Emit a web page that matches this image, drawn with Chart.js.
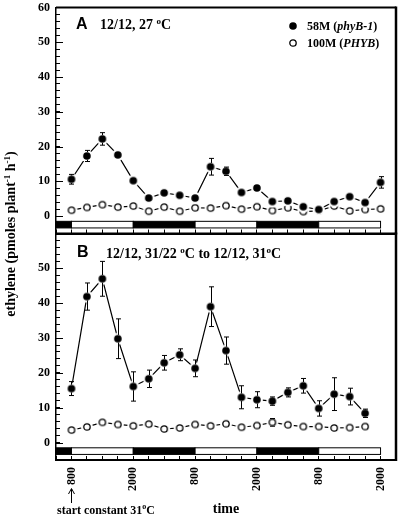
<!DOCTYPE html>
<html>
<head>
<meta charset="utf-8">
<script src="https://cdn.jsdelivr.net/npm/chart.js@4.4.1/dist/chart.umd.min.js"></script>
<style>
    html, body { margin: 0; padding: 0; background: #fff; }
    #wrap { position: relative; width: 403px; height: 518px; }
    #wrap canvas { position: absolute; left: 0; top: 0; }
</style>
</head>
<body>
<div id="wrap">
    <canvas id="chart-a" width="403" height="518"></canvas>
    <canvas id="chart-b" width="403" height="518"></canvas>
</div>
<script>
// hours after the first 800 sample, one sample every 3 h
const hoursA = [0, 3, 6, 9, 12, 15, 18, 21, 24, 27, 30, 33, 36, 39, 42, 45, 48, 51, 54, 57, 60];
const mutantA = [10.6, 17.3, 22.2, 17.6, 10.2, 5.2, 6.7, 6.0, 5.2, 14.2, 12.9, 6.8, 8.1, 4.2, 4.4, 2.7, 1.9, 4.2, 5.6, 3.9, 9.7];
const mutantErrA = [1.4, 1.6, 1.8, 0, 0, 0, 0, 0, 0, 2.4, 1.2, 0, 0, 0, 0, 0, 0, 0, 0, 0, 1.65];
const wildA = [1.7, 2.5, 3.3, 2.6, 2.9, 1.4, 2.6, 1.4, 2.4, 2.3, 3.0, 2.0, 2.7, 1.6, 2.4, 1.3, 1.5, 2.9, 1.5, 1.9, 2.1];

const hoursB = [0, 3, 6, 9, 12, 15, 18, 21, 24, 27, 30, 33, 36, 39, 42, 45, 48, 51, 54, 57];
const mutantB = [15.5, 41.9, 47.0, 29.8, 16.1, 18.3, 22.9, 25.2, 21.3, 39.0, 26.4, 13.0, 12.3, 11.9, 14.4, 16.3, 9.8, 13.9, 13.2, 8.4];
const mutantErrB = [2.0, 3.9, 5.0, 5.7, 4.2, 2.5, 2.1, 1.7, 2.4, 5.7, 3.9, 3.3, 2.3, 1.2, 1.3, 2.1, 2.2, 4.7, 2.4, 1.2];
const wildB = [3.6, 4.5, 5.8, 5.2, 4.8, 5.3, 3.9, 4.2, 5.2, 4.8, 5.4, 4.4, 4.9, 5.8, 5.1, 4.6, 4.6, 4.2, 4.3, 4.6];
const wildErrB = [0, 0, 0, 0, 0, 0, 0, 0, 0, 0, 0, 0, 0, 1.1, 0, 0, 0, 0, 0, 1.0];

const timeTickHours = [0, 12, 24, 36, 48, 60];
const timeTickLabels = ['800', '2000', '800', '2000', '800', '2000'];
const yLabelsA = [0, 10, 20, 30, 40, 50, 60];
const yLabelsB = [0, 10, 20, 30, 40, 50];

const periodStart = [-3, 0, 12, 24, 36, 48];
const periodEnd = [0, 12, 24, 36, 48, 60];
const periodDark = [true, false, true, false, true, false];

const SERIF = '"Liberation Serif", "Times New Roman", serif';
const SANS = '"Liberation Sans", Arial, sans-serif';

function markerImage(filled) {
    const c = document.createElement('canvas');
    c.width = 14;
    c.height = 14;
    const g = c.getContext('2d');
    g.fillStyle = '#fff';
    g.beginPath();
    g.arc(7, 7, 6, 0, Math.PI * 2);
    g.fill();
    g.beginPath();
    if (filled) {
        g.arc(7, 7, 3.8, 0, Math.PI * 2);
        g.fillStyle = '#000';
        g.fill();
    } else {
        g.arc(7, 7, 3.2, 0, Math.PI * 2);
        g.lineWidth = 1.3;
        g.strokeStyle = '#000';
        g.stroke();
    }
    return c;
}
const filledDot = markerImage(true);
const openDot = markerImage(false);

function drawRuns(ctx, x, y, runs) {
    runs.forEach(r => {
        ctx.font = r.font;
        ctx.fillText(r.text, x, y - (r.raise || 0));
        x += ctx.measureText(r.text).width;
    });
    return x;
}

function runsWidth(ctx, runs) {
    return runs.reduce((w, r) => {
        ctx.font = r.font;
        return w + ctx.measureText(r.text).width;
    }, 0);
}

const errorBars = {
    id: 'errorBars',
    afterDatasetsDraw(chart) {
        const {ctx, scales: {x, y}} = chart;
        ctx.save();
        ctx.strokeStyle = '#000';
        ctx.lineWidth = 1;
        chart.data.datasets.forEach(ds => {
            if (!ds.errors) return;
            ds.data.forEach((p, i) => {
                const e = ds.errors[i];
                if (!e) return;
                const px = Math.round(x.getPixelForValue(p.x)) + 0.5;
                const py = y.getPixelForValue(p.y);
                const top = y.getPixelForValue(p.y + e);
                const bottom = y.getPixelForValue(p.y - e);
                const r = ds.markerRadius;
                ctx.beginPath();
                if (py - top > r) {
                    ctx.moveTo(px, py - r);
                    ctx.lineTo(px, top);
                    ctx.moveTo(px - 2.5, top);
                    ctx.lineTo(px + 2.5, top);
                }
                if (bottom - py > r) {
                    ctx.moveTo(px, py + r);
                    ctx.lineTo(px, bottom);
                    ctx.moveTo(px - 2.5, bottom);
                    ctx.lineTo(px + 2.5, bottom);
                }
                ctx.stroke();
            });
        });
        ctx.restore();
    }
};

// light/dark strip and the box round each panel
const panelFrame = {
    id: 'panelFrame',
    beforeDatasetsDraw(chart) {
        const {ctx, scales: {x, y}} = chart;
        const top = y.getPixelForValue(-1.5);
        const bottom = y.getPixelForValue(-3.4);
        ctx.save();
        ctx.lineWidth = 1;
        ctx.strokeStyle = '#000';
        periodStart.forEach((s, i) => {
            const x1 = x.getPixelForValue(s);
            const x2 = x.getPixelForValue(periodEnd[i]);
            ctx.fillStyle = periodDark[i] ? '#000' : '#fff';
            ctx.fillRect(x1, top, x2 - x1, bottom - top);
            ctx.strokeRect(x1, top, x2 - x1, bottom - top);
        });
        ctx.restore();
    },
    afterDraw(chart) {
        const {ctx, chartArea: a, scales: {y}} = chart;
        ctx.save();
        ctx.strokeStyle = '#000';
        ctx.lineWidth = 2;
        ctx.beginPath();
        ctx.moveTo(a.left, a.top);
        ctx.lineTo(a.right, a.top);
        ctx.stroke();
        ctx.lineWidth = 2.5;
        ctx.beginPath();
        ctx.moveTo(a.right, a.top - 1);
        ctx.lineTo(a.right, a.bottom + 1);
        ctx.stroke();
        ctx.lineWidth = 1;
        ctx.beginPath();
        [0, 10, 20, 30, 40, 50].forEach(v => {
            const py = Math.round(y.getPixelForValue(v)) + 0.5;
            ctx.moveTo(a.left, py);
            ctx.lineTo(a.left + 7, py);
        });
        ctx.stroke();
        ctx.restore();
    }
};

const textA = {
    id: 'textA',
    afterDraw(chart) {
        const ctx = chart.ctx;
        ctx.save();
        ctx.fillStyle = '#000';
        ctx.textBaseline = 'alphabetic';
        ctx.font = 'bold 16px ' + SANS;
        ctx.fillText('A', 76, 29);
        drawRuns(ctx, 100, 29, [
            {text: '12/12, 27 ', font: 'bold 14px ' + SERIF},
            {text: 'o', font: 'bold 9px ' + SERIF, raise: 5},
            {text: 'C', font: 'bold 14px ' + SERIF}
        ]);
        ctx.drawImage(filledDot, 293 - 7, 26 - 7);
        drawRuns(ctx, 307, 30, [
            {text: '58M (', font: 'bold 12px ' + SERIF},
            {text: 'phyB-1', font: 'italic bold 12px ' + SERIF},
            {text: ')', font: 'bold 12px ' + SERIF}
        ]);
        ctx.drawImage(openDot, 293 - 7, 43 - 7);
        drawRuns(ctx, 307, 47, [
            {text: '100M (', font: 'bold 12px ' + SERIF},
            {text: 'PHYB', font: 'italic bold 12px ' + SERIF},
            {text: ')', font: 'bold 12px ' + SERIF}
        ]);
        ctx.restore();
    }
};

const textB = {
    id: 'textB',
    afterDraw(chart) {
        const ctx = chart.ctx;
        ctx.save();
        ctx.fillStyle = '#000';
        ctx.textBaseline = 'alphabetic';
        ctx.font = 'bold 16px ' + SANS;
        ctx.fillText('B', 77, 257);
        drawRuns(ctx, 106, 258, [
            {text: '12/12, 31/22 ', font: 'bold 14px ' + SERIF},
            {text: 'o', font: 'bold 9px ' + SERIF, raise: 5},
            {text: 'C to 12/12, 31', font: 'bold 14px ' + SERIF},
            {text: 'o', font: 'bold 9px ' + SERIF, raise: 5},
            {text: 'C', font: 'bold 14px ' + SERIF}
        ]);
        drawRuns(ctx, 57, 514, [
            {text: 'start constant 31', font: 'bold 12px ' + SERIF},
            {text: 'o', font: 'bold 8px ' + SERIF, raise: 5},
            {text: 'C', font: 'bold 12px ' + SERIF}
        ]);
        // arrow pointing at the first 800 tick
        ctx.strokeStyle = '#000';
        ctx.lineWidth = 1;
        ctx.beginPath();
        ctx.moveTo(71.5, 503);
        ctx.lineTo(71.5, 489);
        ctx.moveTo(68.5, 494);
        ctx.lineTo(71.5, 488.5);
        ctx.lineTo(74.5, 494);
        ctx.stroke();
        // y title shared by both panels
        const title = [
            {text: 'ethylene (pmoles plant', font: 'bold 14px ' + SERIF},
            {text: '-1', font: 'bold 9px ' + SERIF, raise: 5},
            {text: ' h', font: 'bold 14px ' + SERIF},
            {text: '-1', font: 'bold 9px ' + SERIF, raise: 5},
            {text: ')', font: 'bold 14px ' + SERIF}
        ];
        const w = runsWidth(ctx, title);
        ctx.translate(15, 234);
        ctx.rotate(-Math.PI / 2);
        drawRuns(ctx, -w / 2, 0, title);
        ctx.restore();
    }
};

function seriesData(hours, values) {
    return hours.map((h, i) => ({x: h, y: values[i]}));
}

function buildDatasets(hours, mutant, mutantErr, wild, wildErr) {
    return [
        {
            label: '58M (phyB-1)',
            data: seriesData(hours, mutant),
            errors: mutantErr,
            markerRadius: 3.8,
            borderColor: '#000',
            borderWidth: 1.2,
            pointStyle: filledDot,
            pointRadius: 4,
            tension: 0
        },
        {
            label: '100M (PHYB)',
            data: seriesData(hours, wild),
            errors: wildErr,
            markerRadius: 3.8,
            borderColor: '#000',
            borderWidth: 1.2,
            pointStyle: openDot,
            pointRadius: 4,
            tension: 0
        }
    ];
}

function panelOptions(padding, yLabels, showTime) {
    return {
        responsive: false,
        animation: false,
        events: [],
        layout: {padding: padding},
        plugins: {
            legend: {display: false},
            tooltip: {enabled: false}
        },
        scales: {
            x: {
                type: 'linear',
                min: -3,
                max: 63,
                afterFit: scale => {
                    scale.height = showTime ? 58 : 0;
                    scale.paddingLeft = 0;
                    scale.paddingRight = 0;
                },
                ticks: {
                    display: showTime,
                    stepSize: 3,
                    autoSkip: false,
                    minRotation: 90,
                    maxRotation: 90,
                    padding: 11,
                    color: '#000',
                    font: {family: SERIF, weight: 'bold', size: 12},
                    callback: v => {
                        const i = timeTickHours.indexOf(v);
                        return i < 0 ? '' : timeTickLabels[i];
                    }
                },
                grid: {
                    drawOnChartArea: false,
                    drawTicks: true,
                    tickLength: -4,
                    tickColor: '#000',
                    tickWidth: 1
                },
                border: {display: true, color: '#000', width: 2},
                title: {
                    display: showTime,
                    text: 'time',
                    color: '#000',
                    padding: {top: 0, bottom: 0},
                    font: {family: SERIF, weight: 'bold', size: 14}
                }
            },
            y: {
                min: -5,
                max: 60,
                afterFit: scale => {
                    scale.width = 56;
                    scale.paddingTop = 0;
                    scale.paddingBottom = 0;
                },
                ticks: {
                    stepSize: 2,
                    autoSkip: false,
                    padding: 10,
                    color: '#000',
                    font: {family: SERIF, weight: 'bold', size: 12},
                    callback: v => yLabels.includes(v) ? String(v) : ''
                },
                grid: {
                    drawOnChartArea: false,
                    drawTicks: true,
                    tickLength: -4,
                    tickColor: '#000',
                    tickWidth: 1
                },
                border: {display: true, color: '#000', width: 1.5}
            }
        }
    };
}

new Chart(document.getElementById('chart-a').getContext('2d'), {
    type: 'line',
    data: {datasets: buildDatasets(hoursA, mutantA, mutantErrA, wildA, null)},
    options: panelOptions({left: 0, right: 7, top: 7.5, bottom: 284.5}, yLabelsA, false),
    plugins: [panelFrame, errorBars, textA]
});

new Chart(document.getElementById('chart-b').getContext('2d'), {
    type: 'line',
    data: {datasets: buildDatasets(hoursB, mutantB, mutantErrB, wildB, wildErrB)},
    options: panelOptions({left: 0, right: 7, top: 233.5, bottom: 0}, yLabelsB, true),
    plugins: [panelFrame, errorBars, textB]
});
</script>
</body>
</html>
